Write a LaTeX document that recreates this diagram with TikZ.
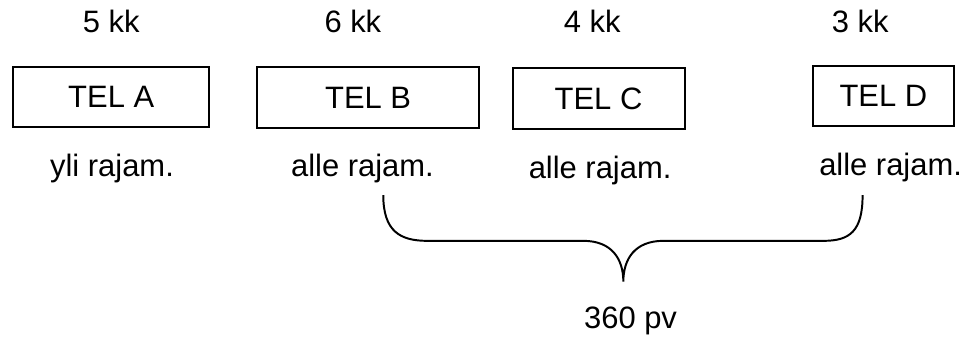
\documentclass[tikz,border=0pt]{standalone}
\usepackage{fontspec}
\setmainfont{Liberation Sans}
\usetikzlibrary{positioning}

\begin{document}
\begin{tikzpicture}[font=\fontsize{11}{13}\selectfont, line width=0.7pt]
\useasboundingbox (0,0) rectangle (12.16,4.25);

% TEL-laatikot
\node[draw, rectangle, minimum width=2.45cm, minimum height=0.75cm] (tela) at (1.39,3.04) {TEL A};
\node[draw, rectangle, minimum width=2.78cm, minimum height=0.76cm] (telb) at (4.60,3.03) {TEL B};
\node[draw, rectangle, minimum width=2.15cm, minimum height=0.76cm] (telc) at (7.48,3.02) {TEL C};
\node[draw, rectangle, minimum width=1.76cm, minimum height=0.76cm] (teld) at (11.04,3.05) {TEL D};

% kuukaudet
\node[anchor=base] (kka) at (1.39,3.84) {5 kk};
\node[anchor=base] (kkb) at (4.41,3.84) {6 kk};
\node[anchor=base] (kkc) at (7.40,3.84) {4 kk};
\node[anchor=base] (kkd) at (10.75,3.84) {3 kk};

% rajamaksut
\node[anchor=base] (raja) at (1.40,2.04) {yli rajam.};
\node[anchor=base] (rajb) at (4.53,2.04) {alle rajam.};
\node[anchor=base] (rajc) at (7.50,2.02) {alle rajam.};
\node[anchor=base] (rajd) at (11.13,2.06) {alle rajam.};

% aaltosulje
\coordinate (sulkuL) at (4.79,1.81);
\coordinate (sulkuR) at (10.78,1.81);
\coordinate (sulkuK) at (7.79,0.73);
\draw (sulkuL) .. controls (4.79,1.36) and (5.00,1.24) .. (5.34,1.24) -- (7.29,1.24)
  .. controls (7.64,1.24) and (7.79,1.02) .. (sulkuK)
  .. controls (7.79,1.02) and (7.94,1.24) .. (8.29,1.24) -- (10.29,1.24)
  .. controls (10.62,1.24) and (10.78,1.36) .. (sulkuR);
\node[anchor=base] (pv) at (7.88,0.15) {360 pv};
\end{tikzpicture}
\end{document}
